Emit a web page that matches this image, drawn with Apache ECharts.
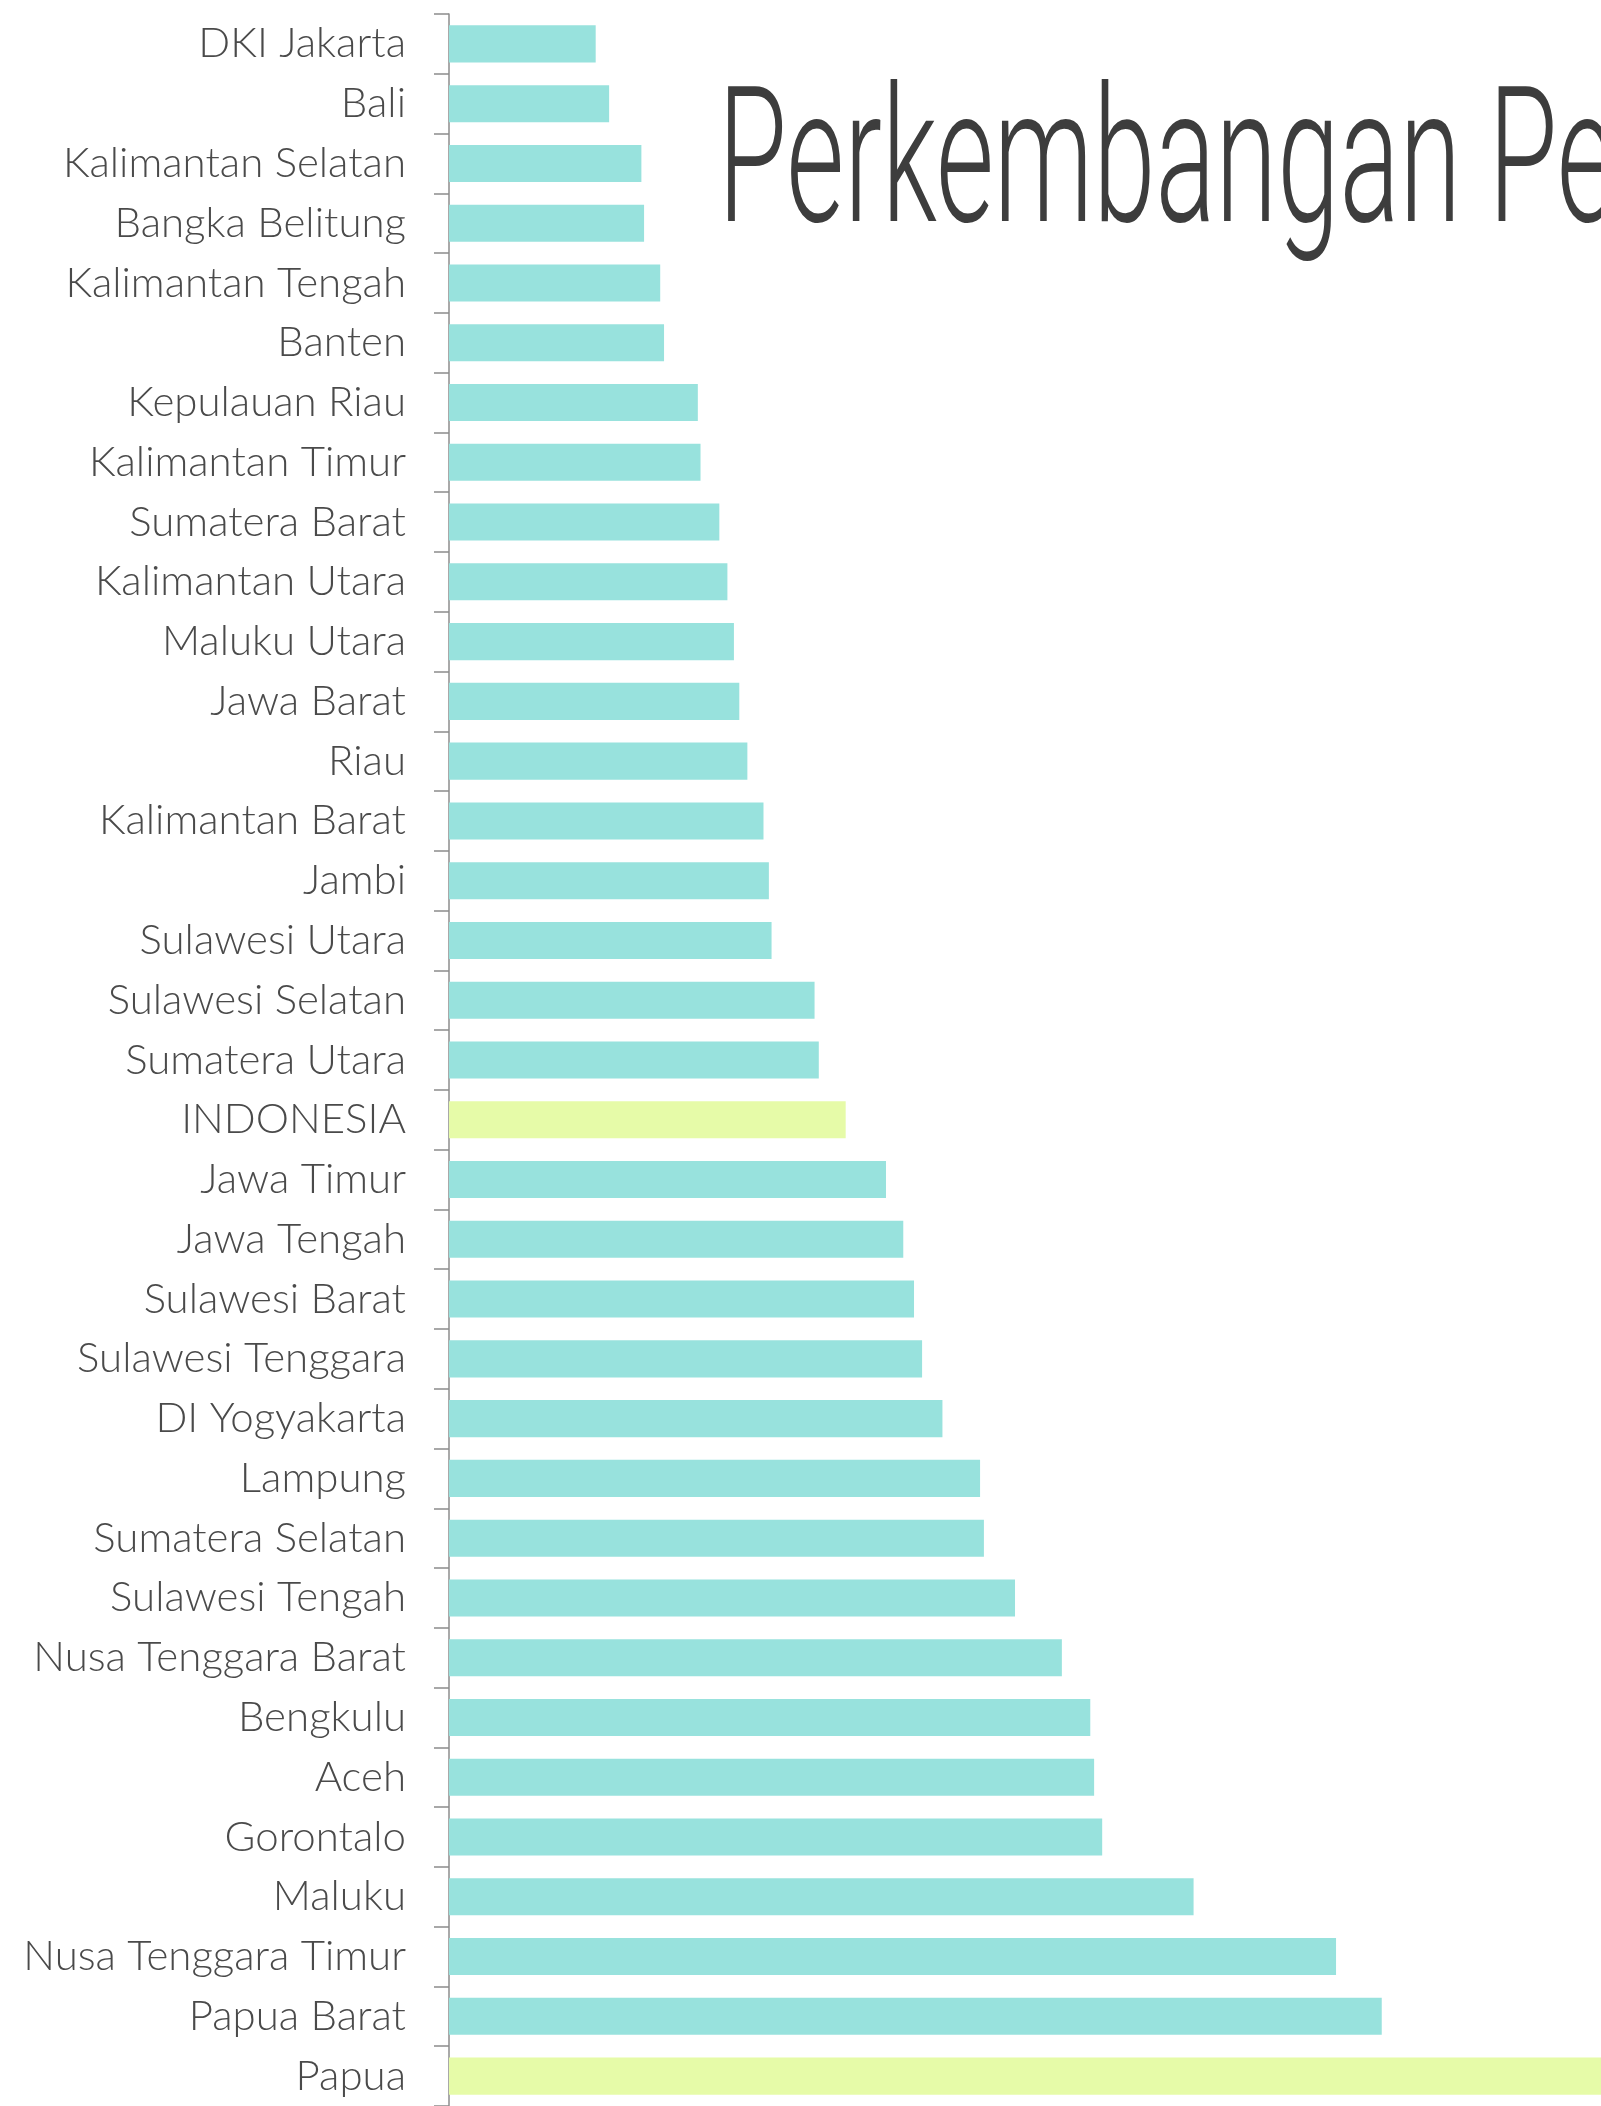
<!DOCTYPE html>
<html lang="en">
<head>
<meta charset="UTF-8">
<title>Perkembangan Persentase Penduduk Miskin</title>
<style>
    html, body { margin: 0; padding: 0; background: #fff; }
    #chart { width: 1601px; height: 2106px; }
</style>
</head>
<body>
<div id="chart"></div>
<script src="https://cdn.jsdelivr.net/npm/echarts@6/dist/echarts.min.js"></script>
<script>
    // provinsi, urut dari yang terendah
    var provinsi = ['DKI Jakarta', 'Bali', 'Kalimantan Selatan', 'Bangka Belitung', 'Kalimantan Tengah',
        'Banten', 'Kepulauan Riau', 'Kalimantan Timur', 'Sumatera Barat', 'Kalimantan Utara',
        'Maluku Utara', 'Jawa Barat', 'Riau', 'Kalimantan Barat', 'Jambi', 'Sulawesi Utara',
        'Sulawesi Selatan', 'Sumatera Utara', 'INDONESIA', 'Jawa Timur', 'Jawa Tengah',
        'Sulawesi Barat', 'Sulawesi Tenggara', 'DI Yogyakarta', 'Lampung', 'Sumatera Selatan',
        'Sulawesi Tengah', 'Nusa Tenggara Barat', 'Bengkulu', 'Aceh', 'Gorontalo', 'Maluku',
        'Nusa Tenggara Timur', 'Papua Barat', 'Papua'];
    // persen
    var nilai = [3.82, 4.17, 5.01, 5.08, 5.50, 5.60, 6.48, 6.55, 7.04, 7.25,
        7.42, 7.56, 7.77, 8.19, 8.33, 8.40, 9.52, 9.63, 10.33, 11.38, 11.83,
        12.11, 12.32, 12.85, 13.83, 13.93, 14.74, 15.96, 16.70, 16.80, 17.01, 19.39,
        23.10, 24.29, 31.0];
    var sorot = ['INDONESIA', 'Papua'];

    var warnaBiasa = '#98e2dd';
    var warnaSorot = '#e6fba8';

    var myChart = echarts.init(document.getElementById('chart'));

    var option = {
        backgroundColor: '#ffffff',
        animation: false,
        grid: {
            left: 449,
            top: 14,
            height: 2094,
            right: 0
        },
        xAxis: {
            type: 'value',
            min: 0,
            max: 30,
            show: false
        },
        yAxis: {
            type: 'category',
            inverse: true,
            data: provinsi,
            axisLine: { show: true, lineStyle: { color: '#8c8c8c', width: 1.5 } },
            axisTick: { show: true, inside: false, alignWithLabel: false, length: 15, lineStyle: { color: '#8c8c8c', width: 1.5 } },
            axisLabel: {
                margin: 43,
                fontFamily: 'Lato',
                fontWeight: 300,
                fontSize: 42,
                color: '#4a4a4a'
            }
        },
        graphic: [{
            type: 'text',
            x: 718,
            y: 78,
            scaleX: 0.59,
            style: {
                text: 'Perkembangan Persentase Penduduk Miskin',
                font: '300 190px Roboto',
                fill: '#3d3d3d',
                verticalAlign: 'top'
            }
        }],
        series: [{
            type: 'bar',
            barCategoryGap: '38%',
            data: nilai.map(function (v, i) {
                return {
                    value: v,
                    itemStyle: { color: sorot.indexOf(provinsi[i]) >= 0 ? warnaSorot : warnaBiasa }
                };
            })
        }]
    };

    myChart.setOption(option);
</script>
</body>
</html>
